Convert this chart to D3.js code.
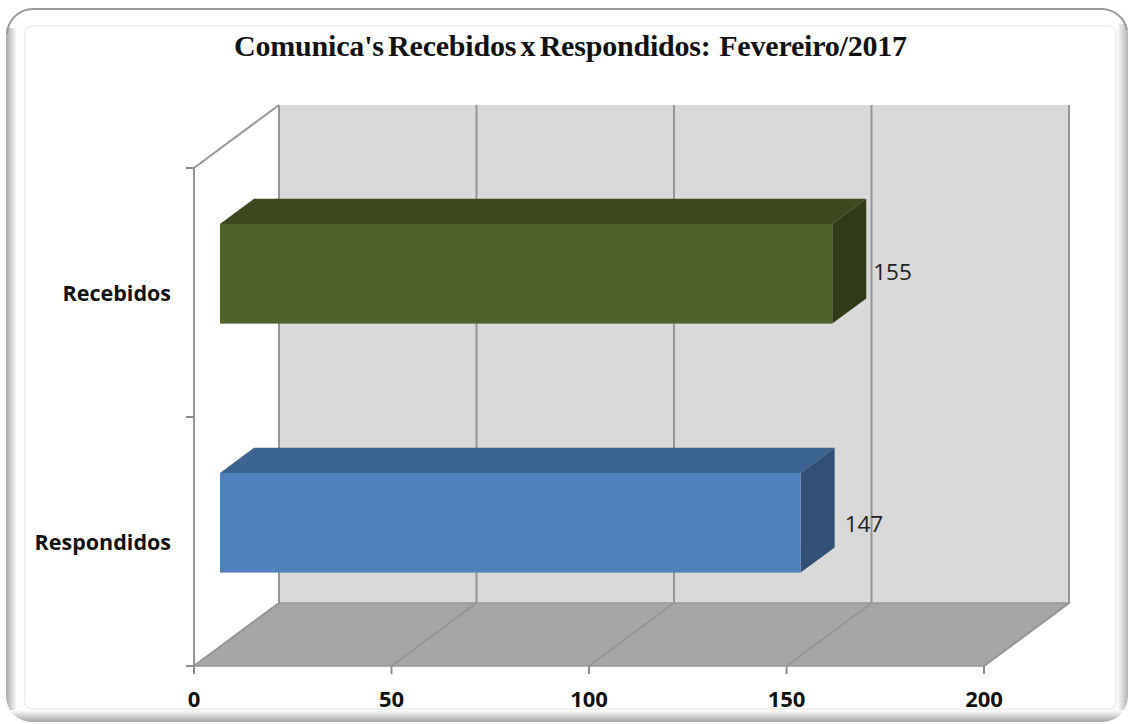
<!DOCTYPE html>
<html>
<head>
<meta charset="utf-8">
<script src="https://cdn.jsdelivr.net/npm/d3@7"></script>
<style>
  html, body { margin: 0; padding: 0; background: #fff; overflow: hidden; }
</style>
</head>
<body>
<script>
var titleText = "Comunica's Recebidos x Respondidos:  Fevereiro/2017"
var categories = ["Recebidos", "Respondidos"]
var values = [155, 147]
var xTicks = [0, 50, 100, 150, 200]

var width = 1129
var height = 724

// bar colours: front, top, side
var barColors = [
  {front: "#4f6228", top: "#3c4a1e", side: "#2f3b17"},
  {front: "#4f81bd", top: "#3d6390", side: "#315078"}
]

var svg = d3.select("body").append("svg")
            .attr("width", width)
            .attr("height", height)
            .style("display", "block")

var defs = svg.append("defs")
var addShade = function(id, x2, y2, from, to) {
  var g = defs.append("linearGradient").attr("id", id)
              .attr("x1", 0).attr("y1", 0).attr("x2", x2).attr("y2", y2)
  g.append("stop").attr("offset", "0%").attr("stop-color", from)
  g.append("stop").attr("offset", "100%").attr("stop-color", to)
}
addShade("leftShade", 1, 0, "#a8a8a8", "#ffffff")
addShade("rightShade", 1, 0, "#ffffff", "#b4b4b4")
addShade("bottomShade", 0, 1, "#ffffff", "#a4a4a4")

defs.append("clipPath").attr("id", "frameClip").append("rect")
    .attr("x", 6).attr("y", 8).attr("width", 1122).attr("height", 714).attr("rx", 26)

// frame of the chart, bevel then inner panel
var frame = svg.append("g").attr("clip-path", "url(#frameClip)")
frame.append("rect").attr("x", 6).attr("y", 8).attr("width", 1122).attr("height", 714).attr("fill", "#fff")
frame.append("rect").attr("x", 6).attr("y", 28).attr("width", 11).attr("height", 694).attr("fill", "url(#leftShade)")
frame.append("rect").attr("x", 1117).attr("y", 24).attr("width", 11).attr("height", 698).attr("fill", "url(#rightShade)")
frame.append("rect").attr("x", 6).attr("y", 710).attr("width", 1122).attr("height", 12).attr("fill", "url(#bottomShade)")
svg.append("path")
   .attr("d", "M7,34 A26,26 0 0 1 33,9 H1102 A26,26 0 0 1 1127,30")
   .attr("fill", "none").attr("stroke", "#999").attr("stroke-width", 2)
svg.append("rect").attr("x", 25).attr("y", 26).attr("width", 1091).attr("height", 683)
   .attr("rx", 7).attr("fill", "#fff").attr("stroke", "#e2e2e2").attr("stroke-width", 1)

var x = d3.scaleLinear().domain([0, 200]).range([194, 984])
var y = d3.scaleBand().domain(categories).range([168, 666]).paddingInner(0.6).paddingOuter(0.3)

// the 3d shift of the back wall
var depthX = 85
var depthY = -63
// bars stand part way into the depth
var shiftX = 26
var shiftY = -18.7
var dx = 34
var dy = -25.2

var x0 = x(0), x1 = x(200), yTop = 168, yBot = 666

var pts = function(a) { return a.map(function(p) { return p.join(",") }).join(" ") }

// back wall
svg.append("rect").attr("x", x0 + depthX).attr("y", yTop + depthY)
   .attr("width", x1 - x0).attr("height", yBot - yTop).attr("fill", "#d9d9d9")
// floor
svg.append("polygon")
   .attr("points", pts([[x0, yBot], [x1, yBot], [x1 + depthX, yBot + depthY], [x0 + depthX, yBot + depthY]]))
   .attr("fill", "#a6a6a6").attr("stroke", "#969696").attr("stroke-width", 1.5)
// left wall outline
svg.append("path")
   .attr("d", "M" + x0 + "," + yBot + "V" + yTop + "L" + (x0 + depthX) + "," + (yTop + depthY))
   .attr("fill", "none").attr("stroke", "#969696").attr("stroke-width", 2)

// gridlines, back wall and floor
svg.selectAll(".grid").data(xTicks).enter().append("path")
   .attr("class", "grid")
   .attr("d", function(d) {
     return "M" + (x(d) + depthX) + "," + (yTop + depthY) + "V" + (yBot + depthY) + "L" + x(d) + "," + yBot
   })
   .attr("fill", "none").attr("stroke", "#969696").attr("stroke-width", 2)

// axis ticks
svg.selectAll(".xtick").data(xTicks).enter().append("line")
   .attr("class", "xtick")
   .attr("x1", function(d) { return x(d) }).attr("x2", function(d) { return x(d) })
   .attr("y1", yBot).attr("y2", yBot + 8)
   .attr("stroke", "#8c8c8c").attr("stroke-width", 2)
svg.selectAll(".ytick").data([yTop, (yTop + yBot) / 2, yBot]).enter().append("line")
   .attr("class", "ytick")
   .attr("x1", x0 - 8).attr("x2", x0)
   .attr("y1", function(d) { return d }).attr("y2", function(d) { return d })
   .attr("stroke", "#8c8c8c").attr("stroke-width", 2)

// bars
var bars = svg.selectAll(".bar").data(categories).enter().append("g").attr("class", "bar")
var bx = x0 + shiftX
var barTop = function(d) { return y(d) + shiftY }

bars.append("polygon")
    .attr("points", function(d, i) {
      var r = x(values[i]) + shiftX, t = barTop(d)
      return pts([[bx, t], [r, t], [r + dx, t + dy], [bx + dx, t + dy]])
    })
    .attr("fill", function(d, i) { return barColors[i].top })
bars.append("polygon")
    .attr("points", function(d, i) {
      var r = x(values[i]) + shiftX, t = barTop(d), b = t + y.bandwidth()
      return pts([[r, t], [r + dx, t + dy], [r + dx, b + dy], [r, b]])
    })
    .attr("fill", function(d, i) { return barColors[i].side })
bars.append("rect")
    .attr("x", bx)
    .attr("y", barTop)
    .attr("width", function(d, i) { return x(values[i]) - x0 })
    .attr("height", y.bandwidth())
    .attr("fill", function(d, i) { return barColors[i].front })

// value labels, the 147 sits a bit further out
var labelNudge = [[0, -2], [3, 1]]
bars.append("text")
    .text(function(d, i) { return values[i] })
    .attr("x", function(d, i) { return x(values[i]) + shiftX + 41 + labelNudge[i][0] })
    .attr("y", function(d, i) { return barTop(d) + y.bandwidth() / 2 + 8 + labelNudge[i][1] })
    .attr("font-family", "Open Sans")
    .attr("font-size", "22.5px")
    .attr("fill", "#222")

// category labels
svg.selectAll(".cat").data(categories).enter().append("text")
   .attr("class", "cat")
   .text(function(d) { return d })
   .attr("x", 171)
   .attr("y", function(d) { return y(d) + y.bandwidth() / 2 + 8 })
   .attr("text-anchor", "end")
   .attr("font-family", "Open Sans")
   .attr("font-weight", "bold")
   .attr("font-size", "21.5px")
   .attr("fill", "#111")

// x labels
svg.selectAll(".xlab").data(xTicks).enter().append("text")
   .attr("class", "xlab")
   .text(function(d) { return d })
   .attr("x", function(d) { return x(d) })
   .attr("y", 707)
   .attr("text-anchor", "middle")
   .attr("font-family", "Open Sans")
   .attr("font-weight", "bold")
   .attr("font-size", "22px")
   .attr("fill", "#111")

// title
svg.append("text")
   .text(titleText)
   .attr("x", 570.5)
   .attr("y", 56)
   .attr("text-anchor", "middle")
   .style("white-space", "pre")
   .style("letter-spacing", "-0.2px")
   .style("word-spacing", "-3px")
   .attr("font-family", "Liberation Serif")
   .attr("font-weight", "bold")
   .attr("font-size", "30px")
   .attr("fill", "#111")
</script>
</body>
</html>
